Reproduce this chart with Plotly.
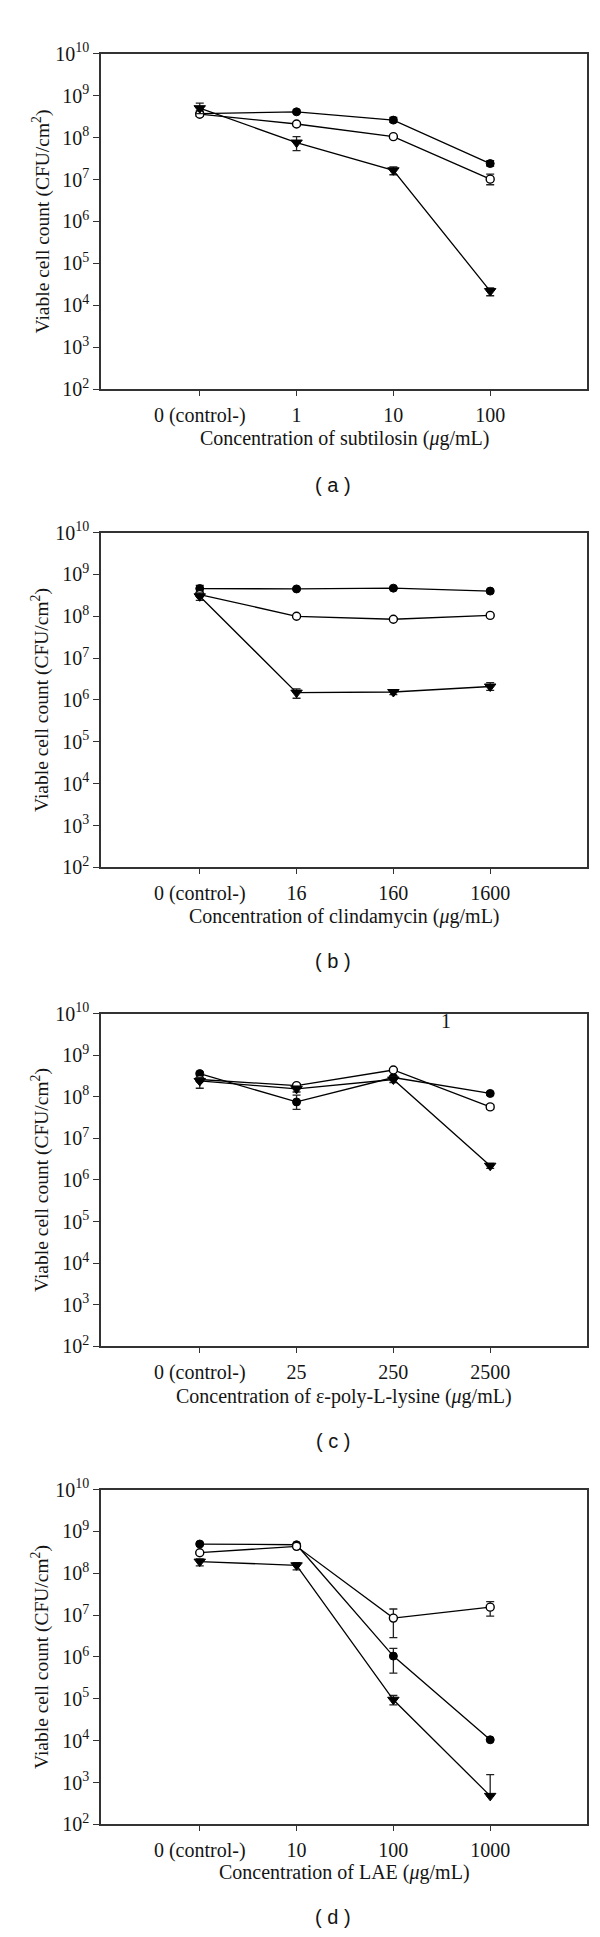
import plotly.graph_objects as go

W, H = 600, 1937

# ---------------- data ----------------
labels_a = ["0 (control-)", "1", "10", "100"]
labels_b = ["0 (control-)", "16", "160", "1600"]
labels_c = ["0 (control-)", "25", "250", "2500"]
labels_d = ["0 (control-)", "10", "100", "1000"]

xtitle_a = "Concentration of subtilosin (<i>μ</i>g/mL)"
xtitle_b = "Concentration of clindamycin (<i>μ</i>g/mL)"
xtitle_c = "Concentration of ε-poly-L-lysine (<i>μ</i>g/mL)"
xtitle_d = "Concentration of LAE (<i>μ</i>g/mL)"

# panel (a)
a_filled = [3.7e8, 4.1e8, 2.6e8, 2.4e7]
a_filled_hi = [4.3e8, 4.5e8, 3.0e8, 2.8e7]
a_filled_lo = [3.2e8, 3.8e8, 2.3e8, 2.1e7]
a_open = [3.6e8, 2.1e8, 1.05e8, 1.02e7]
a_open_hi = [4.0e8, 2.3e8, 1.1e8, 1.35e7]
a_open_lo = [3.2e8, 1.9e8, 1.0e8, 7.5e6]
a_tri = [5.0e8, 7.6e7, 1.66e7, 2.2e4]
a_tri_hi = [6.6e8, 1.05e8, 2.0e7, 2.6e4]
a_tri_lo = [3.7e8, 4.9e7, 1.3e7, 1.7e4]

# panel (b)
b_filled = [4.6e8, 4.5e8, 4.7e8, 4.0e8]
b_filled_hi = [5.5e8, 4.8e8, 5.0e8, 4.3e8]
b_filled_lo = [3.8e8, 4.2e8, 4.4e8, 3.7e8]
b_open = [3.3e8, 1.0e8, 8.5e7, 1.05e8]
b_open_hi = [3.6e8, 1.05e8, 9.0e7, 1.1e8]
b_open_lo = [3.0e8, 0.95e8, 8.0e7, 1.0e8]
b_tri = [3.0e8, 1.5e6, 1.55e6, 2.1e6]
b_tri_hi = [3.6e8, 1.85e6, 1.7e6, 2.6e6]
b_tri_lo = [2.4e8, 1.1e6, 1.35e6, 1.7e6]

# panel (c)
c_filled = [3.6e8, 7.5e7, 2.9e8, 1.2e8]
c_filled_hi = [3.9e8, 1.1e8, 3.2e8, 1.3e8]
c_filled_lo = [3.3e8, 5.0e7, 2.6e8, 1.1e8]
c_open = [2.6e8, 1.85e8, 4.4e8, 5.7e7]
c_open_hi = [2.8e8, 2.0e8, 4.7e8, 6.5e7]
c_open_lo = [2.4e8, 1.7e8, 4.1e8, 5.0e7]
c_tri = [2.4e8, 1.55e8, 2.6e8, 2.2e6]
c_tri_hi = [2.9e8, 1.8e8, 3.0e8, 2.5e6]
c_tri_lo = [1.6e8, 1.3e8, 2.2e8, 1.9e6]

# panel (d)
d_filled = [5.0e8, 4.8e8, 1.05e6, 1.05e4]
d_filled_hi = [5.3e8, 5.1e8, 1.6e6, 1.1e4]
d_filled_lo = [4.7e8, 4.5e8, 4.1e5, 1.0e4]
d_open = [3.1e8, 4.4e8, 8.5e6, 1.55e7]
d_open_hi = [3.3e8, 4.7e8, 1.4e7, 2.1e7]
d_open_lo = [2.9e8, 4.1e8, 2.9e6, 9.5e6]
d_tri = [1.9e8, 1.55e8, 9.5e4, 4.8e2]
d_tri_hi = [2.2e8, 1.8e8, 1.2e5, 1.55e3]
d_tri_lo = [1.5e8, 1.2e8, 7.2e4, 4.8e2]

ytick_vals = [1e2, 1e3, 1e4, 1e5, 1e6, 1e7, 1e8, 1e9, 1e10]
ytick_text = ["10<sup>%d</sup>" % p for p in range(2, 11)]
ytitle = "Viable cell count (CFU/cm<sup>2</sup>)"
panel_tags = ["( a )", "( b )", "( c )", "( d )"]

# ---------------- layout geometry (pixels) ----------------
box_left, box_right = 93, 579
box_tops = [33, 518, 1005, 1487]
box_bottoms = [373, 857, 1342, 1826]
xtitle_y = [423, 907, 1393, 1875]
tag_y = [470, 952, 1438, 1920]


def py(p):
    return 1 - p / H


def px(p):
    return p / W


SERIF = "Liberation Serif"
TXT = "#141414"
fig = go.Figure()

panels = [
    (labels_a, xtitle_a, a_filled, a_filled_hi, a_filled_lo, a_open, a_open_hi, a_open_lo, a_tri, a_tri_hi, a_tri_lo),
    (labels_b, xtitle_b, b_filled, b_filled_hi, b_filled_lo, b_open, b_open_hi, b_open_lo, b_tri, b_tri_hi, b_tri_lo),
    (labels_c, xtitle_c, c_filled, c_filled_hi, c_filled_lo, c_open, c_open_hi, c_open_lo, c_tri, c_tri_hi, c_tri_lo),
    (labels_d, xtitle_d, d_filled, d_filled_hi, d_filled_lo, d_open, d_open_hi, d_open_lo, d_tri, d_tri_hi, d_tri_lo),
]

annotations = []
for i, (labs, xt, f, fh, fl, o, oh, ol, t, th, tl) in enumerate(panels):
    n = i + 1
    xa = "x" if n == 1 else "x%d" % n
    ya = "y" if n == 1 else "y%d" % n
    xs = list(range(len(labs)))

    def err(v, hi, lo):
        return dict(type="data", symmetric=False,
                    array=[h - a for a, h in zip(v, hi)],
                    arrayminus=[a - l for a, l in zip(v, lo)],
                    color="#222", thickness=1.3, width=4)

    series = [
        (f, fh, fl, dict(symbol="circle", size=8, color="black", line=dict(color="black", width=1))),
        (o, oh, ol, dict(symbol="circle", size=8, color="white", line=dict(color="black", width=1.4))),
        (t, th, tl, dict(symbol="triangle-down", size=10, color="black", line=dict(color="black", width=1))),
    ]
    for vals, hi, lo, mk in series:
        fig.add_trace(go.Scatter(
            x=xs, y=vals, mode="lines+markers", xaxis=xa, yaxis=ya,
            line=dict(color="black", width=1.3), marker=mk,
            error_y=err(vals, hi, lo), showlegend=False, cliponaxis=False))

    xkey = "xaxis" if n == 1 else "xaxis%d" % n
    ykey = "yaxis" if n == 1 else "yaxis%d" % n
    fig.update_layout(**{
        xkey: dict(domain=[px(box_left), px(box_right)], anchor=ya,
                   range=[-1.02, 4.0], tickmode="array", tickvals=xs, ticktext=labs,
                   ticks="outside", ticklen=5, tickwidth=1.3, tickcolor="#333",
                   showline=True, linecolor="#333", linewidth=1.5, mirror=True,
                   showgrid=False, zeroline=False, ticklabelstandoff=2,
                   tickfont=dict(family=SERIF, size=20, color=TXT)),
        ykey: dict(domain=[py(box_bottoms[i]), py(box_tops[i])], anchor=xa,
                   type="log", range=[2, 10], tickmode="array",
                   tickvals=ytick_vals, ticktext=ytick_text,
                   ticks="outside", ticklen=6, tickwidth=1.3, tickcolor="#333",
                   showline=True, linecolor="#333", linewidth=1.5, mirror=True,
                   showgrid=False, zeroline=False,
                   tickfont=dict(family=SERIF, size=20, color=TXT)),
    })
    # y title
    annotations.append(dict(text=ytitle, textangle=-90, x=px(33), y=py((box_tops[i] + box_bottoms[i]) / 2),
                            xref="paper", yref="paper", showarrow=False, xanchor="center", yanchor="middle",
                            font=dict(family=SERIF, size=19.5, color=TXT)))
    # x title
    annotations.append(dict(text=xt, x=px((box_left + box_right) / 2), y=py(xtitle_y[i]),
                            xref="paper", yref="paper", showarrow=False, xanchor="center", yanchor="middle",
                            font=dict(family=SERIF, size=20, color=TXT)))
    # panel tag
    annotations.append(dict(text=panel_tags[i], x=px(325), y=py(tag_y[i]),
                            xref="paper", yref="paper", showarrow=False, xanchor="center", yanchor="middle",
                            font=dict(family="Liberation Sans", size=20, color=TXT)))

# stray "1" in panel (c)
annotations.append(dict(text="1", x=px(438), y=py(1013), xref="paper", yref="paper", showarrow=False,
                        xanchor="center", yanchor="middle", font=dict(family=SERIF, size=20, color=TXT)))

fig.update_layout(width=W, height=H, margin=dict(l=0, r=0, t=0, b=0),
                  paper_bgcolor="white", plot_bgcolor="white", annotations=annotations,
                  showlegend=False)

fig.write_html("out.html")
